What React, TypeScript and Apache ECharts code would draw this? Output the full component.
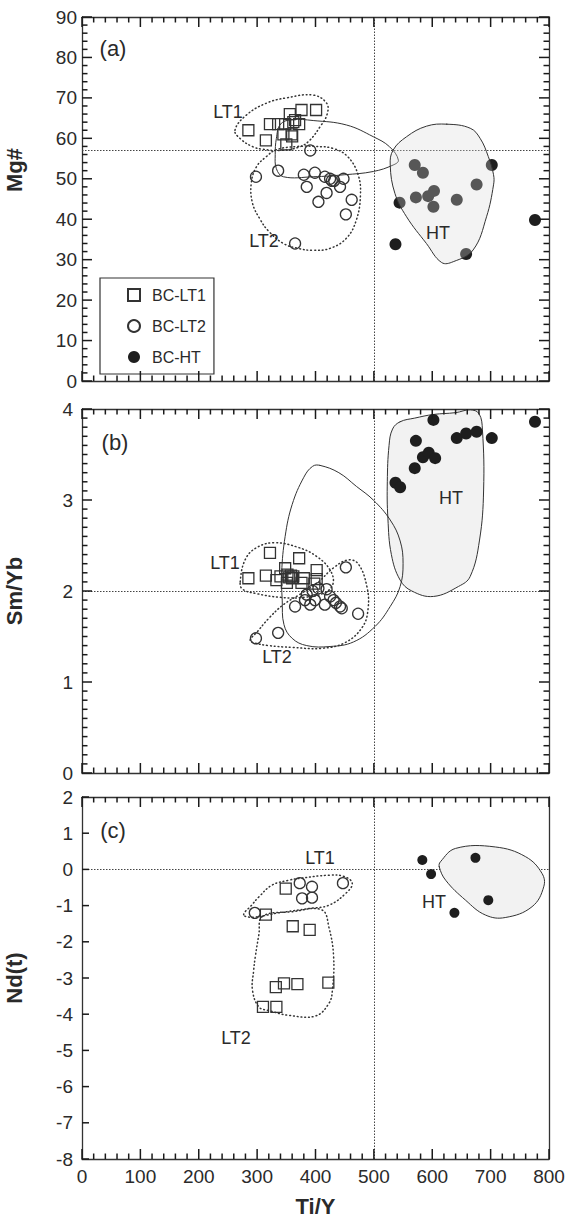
import React, { useEffect, useRef } from "react";
import * as echarts from "echarts";

// ---------- shared x axis (Ti/Y) ----------
const X_MIN = 0;
const X_MAX = 800;
const X_STEP = 100;
const X_MINOR_STEP = 20;

// ---------- Panel (a): Mg# vs Ti/Y ----------
const lt1A = [[285, 62], [315, 59.5], [322, 63.5], [336, 63.5], [348, 63.5], [350, 58.5], [356, 66], [345, 61], [359, 61], [362, 64], [365, 64.5], [372, 63.5], [376, 67], [401, 67], [360, 60.5]];
const lt2A = [[298, 50.5], [336, 52], [391, 57], [380, 51], [399, 51.5], [385, 48], [416, 50.5], [425, 50], [432, 49.5], [448, 50], [442, 48], [419, 46.5], [405, 44.3], [462, 44.8], [452, 41.2], [365, 34], [428, 49.5]];
const htA = [[570, 53.4], [584, 51.5], [702, 53.4], [676, 48.6], [544, 44.1], [572, 45.4], [593, 45.7], [603, 47], [602, 43.1], [642, 44.8], [776, 39.8], [537, 33.8], [658, 31.4]];
const fieldLT1A = [[262, 62], [282, 65.8], [316, 68.7], [350, 70], [396, 70.7], [419, 68.7], [420, 66], [408, 62.9], [390, 59.5], [373, 57.9], [340, 57], [310, 57.3], [293, 57.9], [272, 59.8]];
const fieldLT2A = [[333, 57.2], [316, 55.5], [299, 53], [290, 49], [292, 44], [305, 40], [320, 37], [345, 34], [370, 32.8], [396, 32.3], [425, 32.8], [453, 35.3], [470, 39.8], [477, 46], [473, 51], [455, 55.5], [430, 57.5], [400, 58], [370, 58]];
const envA = [[340, 63.5], [360, 64.6], [396, 64.4], [453, 63.3], [499, 60.4], [527, 57.9], [542, 54.6], [533, 53.4], [499, 51.8], [450, 51], [396, 50.5], [345, 50.5], [333, 52.5], [331, 56], [333, 60]];
const fieldHTA = [[625, 63.5], [665, 62.5], [682, 60], [696, 55.5], [705, 51], [705, 48.5], [693, 40.6], [670, 32.4], [636, 29.5], [616, 29.3], [590, 34], [556, 40.6], [536, 46.4], [528, 53.4], [533, 57.1], [556, 60.4], [590, 63]];
const refA = { x: 500, y: 57 };
const yAxisA = { min: 0, max: 90, step: 10, minorStep: 2 };

// ---------- Panel (b): Sm/Yb vs Ti/Y ----------
const lt1B = [[285, 2.14], [315, 2.17], [322, 2.42], [333, 2.12], [348, 2.25], [352, 2.18], [355, 2.15], [358, 2.17], [360, 2.14], [362, 2.16], [351, 2.09], [372, 2.36], [376, 2.09], [380, 2.14], [402, 2.23], [402, 2.13], [398, 2.08], [340, 2.16]];
const lt2B = [[298, 1.48], [336, 1.54], [365, 1.83], [382, 1.9], [391, 1.85], [399, 1.9], [385, 1.96], [405, 2.03], [416, 1.85], [419, 2.02], [425, 1.94], [431, 1.9], [442, 1.83], [445, 1.81], [452, 2.26], [473, 1.75], [395, 2.0], [435, 1.87]];
const htB = [[602, 3.88], [776, 3.86], [572, 3.65], [642, 3.68], [658, 3.73], [676, 3.75], [702, 3.68], [584, 3.47], [594, 3.52], [605, 3.46], [570, 3.35], [537, 3.19], [545, 3.14]];
const fieldLT1B = [[271, 2.1], [280, 2.35], [300, 2.48], [330, 2.53], [370, 2.48], [402, 2.38], [425, 2.23], [430, 2.08], [415, 1.98], [380, 1.93], [340, 1.93], [300, 1.97], [275, 2.02]];
const fieldLT2B = [[288, 1.46], [300, 1.55], [320, 1.7], [345, 1.85], [375, 1.97], [405, 2.1], [430, 2.25], [455, 2.34], [473, 2.3], [488, 2.05], [490, 1.8], [480, 1.6], [450, 1.43], [410, 1.37], [360, 1.38], [320, 1.4], [295, 1.43]];
const envB = [[408, 3.38], [440, 3.3], [470, 3.15], [499, 3.0], [528, 2.78], [545, 2.55], [550, 2.3], [545, 2.05], [528, 1.83], [502, 1.61], [465, 1.44], [425, 1.39], [385, 1.4], [360, 1.48], [346, 1.63], [343, 1.9], [342, 2.2], [348, 2.6], [360, 2.95], [380, 3.25], [395, 3.37]];
const fieldHTB = [[545, 3.86], [570, 3.9], [602, 3.94], [640, 3.96], [665, 3.99], [680, 3.95], [686, 3.77], [688, 3.11], [681, 2.56], [665, 2.16], [645, 2.05], [602, 1.94], [565, 2.0], [545, 2.12], [530, 2.4], [524, 2.8], [523, 3.2], [526, 3.6], [532, 3.78]];
const refB = { x: 500, y: 2 };
const yAxisB = { min: 0, max: 4, step: 1, minorStep: 0.1 };

// ---------- Panel (c): Nd(t) vs Ti/Y ----------
const lt1C = [[315, -1.25], [349, -0.53], [361, -1.57], [390, -1.67], [332, -3.25], [346, -3.15], [369, -3.17], [422, -3.13], [310, -3.8], [333, -3.8]];
const lt2C = [[296, -1.2], [373, -0.38], [394, -0.48], [377, -0.8], [394, -0.78], [447, -0.38]];
const htC = [[583, 0.26], [598, -0.13], [674, 0.32], [696, -0.85], [638, -1.2]];
const fieldLT1C = [[277, -1.25], [290, -1.0], [303, -0.76], [326, -0.43], [354, -0.3], [372, -0.25], [423, -0.16], [450, -0.2], [463, -0.39], [452, -0.66], [423, -0.99], [389, -1.08], [337, -1.2], [292, -1.32]];
const fieldLT2C = [[309, -1.3], [360, -1.17], [411, -1.12], [423, -1.6], [431, -2.4], [429, -3.33], [423, -3.7], [400, -4.05], [354, -4.03], [320, -3.9], [303, -3.8], [292, -3.33], [294, -2.8], [297, -2.4], [303, -1.8]];
const fieldHTC = [[612, 0.07], [614, 0.21], [640, 0.58], [708, 0.62], [760, 0.35], [788, -0.11], [791, -0.48], [771, -1.03], [725, -1.33], [691, -1.26], [657, -0.85], [623, -0.3]];
const refC = { x: 500, y: 0 };
const yAxisC = { min: -8, max: 2, step: 1, minorStep: 0 };

const SERIES_NAMES = ["BC-LT1", "BC-LT2", "BC-HT"];

const FONT = '"Liberation Sans", Arial, Helvetica, sans-serif';
const INK = "#2a2a2a";
const STROKE = "#333";
const TICK = "#1a1a1a";
const axLine = () => ({ color: STROKE, width: 1.3 });

// tick positions along an axis (major every `step`, minor every `minorStep`)
function tickValues(min: number, max: number, step: number) {
  const out: number[] = [];
  if (!step) return out;
  const n = Math.round((max - min) / step);
  for (let i = 0; i <= n; i++) out.push(Math.round((min + i * step) * 1e6) / 1e6);
  return out;
}

function xAxisPair(gi: number, showLabels: boolean) {
  const base = (pos: string, labels: boolean) => ({
    gridIndex: gi,
    type: "value",
    position: pos,
    min: X_MIN,
    max: X_MAX,
    interval: X_STEP,
    axisLine: { show: true, onZero: false, lineStyle: axLine() },
    axisTick: { show: false },
    minorTick: { show: false },
    splitLine: { show: false },
    minorSplitLine: { show: false },
    axisLabel: { show: labels, fontSize: 19, color: INK, fontFamily: FONT, margin: 8 },
    ...(labels
      ? {
          name: "Ti/Y",
          nameLocation: "middle",
          nameGap: 36,
          nameTextStyle: { fontSize: 22, fontWeight: "bold", color: INK, fontFamily: FONT },
        }
      : {}),
  });
  return [base("bottom", showLabels), base("top", false)];
}

function yAxisPair(gi: number, ax: any, o: any) {
  const left = {
    gridIndex: gi,
    type: "value",
    position: "left",
    min: ax.min,
    max: ax.max,
    interval: ax.step,
    name: o.name,
    nameLocation: "middle",
    nameGap: 57,
    nameTextStyle: { fontSize: 22, fontWeight: "bold", color: INK, fontFamily: FONT, padding: o.namePad || 0 },
    axisLine: { show: true, onZero: false, lineStyle: axLine() },
    axisTick: { show: false },
    minorTick: { show: false },
    splitLine: { show: false },
    minorSplitLine: { show: false },
    axisLabel: { show: true, fontSize: 19, color: INK, fontFamily: FONT, margin: o.labelMargin },
  };
  const right = {
    gridIndex: gi,
    type: "value",
    position: "right",
    min: ax.min,
    max: ax.max,
    interval: ax.step,
    axisLine: { show: true, onZero: false, lineStyle: axLine() },
    axisTick: { show: false },
    minorTick: { show: false },
    splitLine: { show: false },
    minorSplitLine: { show: false },
    axisLabel: { show: false },
  };
  return [left, right];
}

// inward ticks on all four sides of a panel, placed through the axes' scales
function tickSeries(gi: number, ax: any, o: { yMajorLen: number; yMinor: boolean; rightTicks: boolean }) {
  const xMaj = tickValues(X_MIN, X_MAX, X_STEP);
  const xMin = tickValues(X_MIN, X_MAX, X_MINOR_STEP).filter((v) => !xMaj.includes(v));
  const yMaj = tickValues(ax.min, ax.max, ax.step);
  const yMin = o.yMinor ? tickValues(ax.min, ax.max, ax.minorStep).filter((v) => !yMaj.some((m) => Math.abs(m - v) < 1e-6)) : [];
  const W = 1.5;
  return {
    type: "custom",
    xAxisIndex: gi * 2,
    yAxisIndex: gi * 2,
    data: [[X_MAX / 2, (ax.min + ax.max) / 2]],
    encode: { x: 0, y: 1 },
    z: 6,
    silent: true,
    clip: false,
    renderItem: (params: any, api: any) => {
      const style = { fill: TICK };
      const children: any[] = [];
      const bottom = api.coord([X_MIN, ax.min])[1];
      const top = api.coord([X_MIN, ax.max])[1];
      const left = api.coord([X_MIN, ax.min])[0];
      const right = api.coord([X_MAX, ax.min])[0];
      const addX = (v: number, len: number) => {
        const x = api.coord([v, ax.min])[0];
        children.push({ type: "rect", shape: { x: x - W / 2, y: bottom - len, width: W, height: len }, style });
        children.push({ type: "rect", shape: { x: x - W / 2, y: top, width: W, height: len }, style });
      };
      const addY = (v: number, len: number, both: boolean) => {
        const y = api.coord([X_MIN, v])[1];
        children.push({ type: "rect", shape: { x: left, y: y - W / 2, width: len, height: W }, style });
        if (both) children.push({ type: "rect", shape: { x: right - len, y: y - W / 2, width: len, height: W }, style });
      };
      xMaj.forEach((v) => addX(v, 10));
      xMin.forEach((v) => addX(v, 5.5));
      yMaj.forEach((v) => addY(v, o.yMajorLen, o.rightTicks));
      yMin.forEach((v) => addY(v, 5.5, o.rightTicks));
      return { type: "group", children };
    },
  };
}

function outline(gi: number, pts: number[][], dotted: boolean, fill: string | null, z: number) {
  return {
    type: "custom",
    xAxisIndex: gi * 2,
    yAxisIndex: gi * 2,
    data: pts,
    encode: { x: 0, y: 1 },
    z,
    silent: true,
    renderItem: (params: any, api: any) => {
      if (params.dataIndex !== 0) return null;
      const points = pts.map((p) => api.coord(p));
      return {
        type: "polygon",
        shape: { points, smooth: 0.4 },
        style: {
          fill: fill || "none",
          stroke: STROKE,
          lineWidth: dotted ? 1.5 : 1,
          lineDash: dotted ? [0.8, 3] : null,
          lineCap: "round",
        },
      };
    },
  };
}

function scatterSet(gi: number, lt1: number[][], lt2: number[][], ht: number[][], ref: { x: number; y: number }, htSize: number) {
  const common = { type: "scatter", xAxisIndex: gi * 2, yAxisIndex: gi * 2, z: 2 };
  return [
    {
      ...common,
      name: SERIES_NAMES[0],
      data: lt1,
      symbol: "rect",
      symbolSize: 11,
      itemStyle: { color: "rgba(255,255,255,0)", borderColor: STROKE, borderWidth: 1.3, opacity: 1 },
      markLine: {
        silent: true,
        z: 1,
        symbol: "none",
        label: { show: false },
        lineStyle: { color: "#444", type: [1.5, 1.5], width: 1 },
        data: [{ xAxis: ref.x }, { yAxis: ref.y }],
      },
    },
    {
      ...common,
      name: SERIES_NAMES[1],
      data: lt2,
      symbol: "circle",
      symbolSize: 11,
      itemStyle: { color: "rgba(255,255,255,0)", borderColor: STROKE, borderWidth: 1.3, opacity: 1 },
    },
    {
      ...common,
      name: SERIES_NAMES[2],
      data: ht,
      symbol: "circle",
      symbolSize: htSize,
      itemStyle: { color: "#1e1e1e", opacity: 1 },
    },
  ];
}

function label(text: string, x: number, y: number, size = 18) {
  return {
    type: "text",
    x,
    y,
    z: 100,
    silent: true,
    style: { text, fill: INK, font: `${size}px ${FONT}`, align: "center", verticalAlign: "middle" },
  };
}

const gridBase = { outerBoundsMode: "none", containLabel: false };

const option: any = {
  animation: false,
  backgroundColor: "#fff",
  grid: [
    { ...gridBase, left: 82, top: 17, width: 467, height: 364 },
    { ...gridBase, left: 82, top: 409, width: 467, height: 364 },
    { ...gridBase, left: 82, top: 797, width: 467, height: 362 },
  ],
  xAxis: [...xAxisPair(0, false), ...xAxisPair(1, false), ...xAxisPair(2, true)],
  yAxis: [
    ...yAxisPair(0, yAxisA, { name: "Mg#", labelMargin: 5, namePad: [0, 0, 0, 58] }),
    ...yAxisPair(1, yAxisB, { name: "Sm/Yb", labelMargin: 9 }),
    ...yAxisPair(2, yAxisC, { name: "Nd(t)", labelMargin: 9 }),
  ],
  legend: {
    data: SERIES_NAMES,
    orient: "vertical",
    left: 100,
    top: 278,
    padding: [8, 8, 8, 27],
    itemGap: 13,
    itemWidth: 12,
    itemHeight: 12,
    borderColor: STROKE,
    borderWidth: 1.2,
    selectedMode: false,
    textStyle: { fontSize: 16, color: INK, fontFamily: FONT, lineHeight: 18, padding: [0, 0, 0, 7] },
  },
  series: [
    tickSeries(0, yAxisA, { yMajorLen: 10, yMinor: true, rightTicks: true }),
    outline(0, fieldLT1A, true, null, 1),
    outline(0, fieldLT2A, true, null, 1),
    outline(0, envA, false, null, 1),
    outline(0, fieldHTA, false, "rgba(216,216,216,0.31)", 3),
    ...scatterSet(0, lt1A, lt2A, htA, refA, 12),

    tickSeries(1, yAxisB, { yMajorLen: 10, yMinor: true, rightTicks: true }),
    outline(1, fieldLT1B, true, null, 1),
    outline(1, fieldLT2B, true, null, 1),
    outline(1, fieldHTB, false, "#f2f2f2", 1),
    outline(1, envB, false, null, 1),
    ...scatterSet(1, lt1B, lt2B, htB, refB, 12),

    tickSeries(2, yAxisC, { yMajorLen: 7, yMinor: false, rightTicks: false }),
    outline(2, fieldLT1C, true, null, 1),
    outline(2, fieldLT2C, true, null, 1),
    outline(2, fieldHTC, false, "#f2f2f2", 1),
    ...scatterSet(2, lt1C, lt2C, htC, refC, 10),
  ],
  graphic: [
    label("(a)", 113, 48, 22),
    label("LT1", 228, 112),
    label("LT2", 264, 241),
    label("HT", 438, 233),
    label("(b)", 115, 442, 22),
    label("LT1", 225, 563),
    label("LT2", 277, 657),
    label("HT", 451, 498),
    label("(c)", 113, 830, 22),
    label("LT1", 320, 858),
    label("HT", 434, 902),
    label("LT2", 236, 1038),
  ],
};

export default function App() {
  const ref = useRef<HTMLDivElement>(null);
  useEffect(() => {
    if (!ref.current) return;
    const chart = echarts.init(ref.current, null, { renderer: "svg" });
    chart.setOption(option);
    return () => chart.dispose();
  }, []);
  return (
    <div
      ref={ref}
      style={{ position: "absolute", left: 0, top: 0, width: 580, height: 1222, background: "#fff" }}
    />
  );
}
